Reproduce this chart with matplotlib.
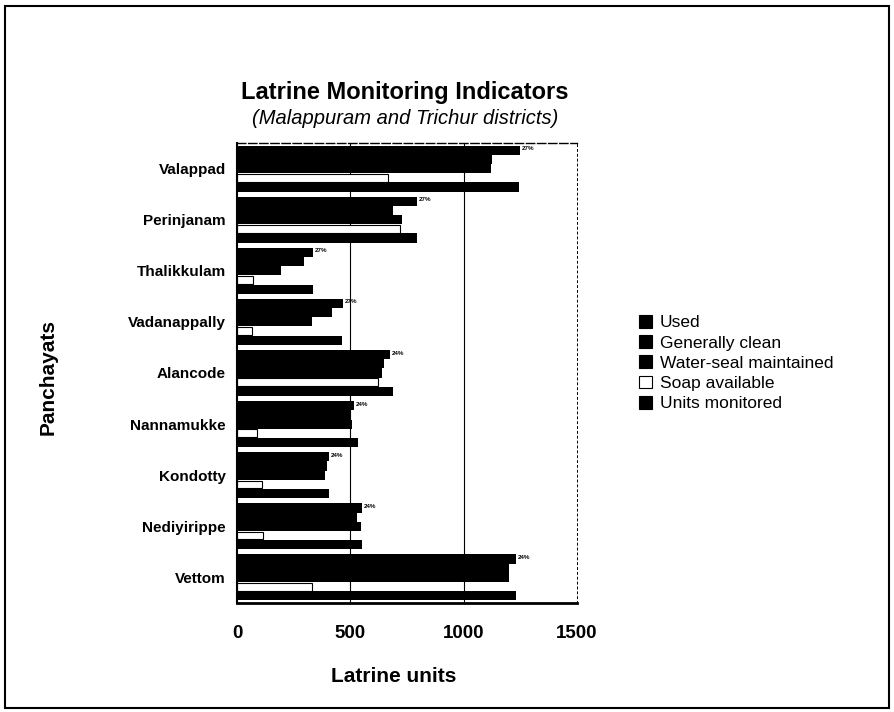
import matplotlib
matplotlib.use("Agg")
import matplotlib.pyplot as plt
from matplotlib.patches import Patch, Rectangle
import numpy as np

plt.rcParams['font.family'] = ['Liberation Sans', 'DejaVu Sans']

panchayats = ["Valappad", "Perinjanam", "Thalikkulam", "Vadanappally", "Alancode",
              "Nannamukke", "Kondotty", "Nediyirippe", "Vettom"]
series_names = ["Used", "Generally clean", "Water-seal maintained", "Soap available", "Units monitored"]
used = [1248, 792, 337, 469, 677, 518, 407, 552, 1230]
generally_clean = [1124, 690, 296, 420, 650, 500, 398, 530, 1200]
water_seal = [1120, 730, 195, 332, 640, 508, 390, 545, 1200]
soap_available = [664, 720, 70, 66, 620, 88, 110, 115, 332]
units_monitored = [1243, 792, 337, 464, 690, 535, 407, 552, 1230]
pct_labels = ["27%", "27%", "27%", "27%", "24%", "24%", "24%", "24%", "24%"]
x_ticks = [0, 500, 1000, 1500]

series = [used, generally_clean, water_seal, soap_available, units_monitored]
face = ["black", "black", "black", "white", "black"]

fig = plt.figure(figsize=(8.95, 7.12), dpi=100)
ax = fig.add_axes([237/895, 109/712, 340/895, 460/712])

n = len(panchayats)
ypos = np.arange(n)
bh = 0.18
for k, vals in enumerate(series):
    offs = (k - 2) * bh
    ax.barh(ypos + offs, vals, height=bh * 0.85 if k == 3 else bh,
            color=face[k], edgecolor="black", linewidth=0.8 if k == 3 else 0)

for i in range(n):
    ax.text(used[i] + 8, ypos[i] - 2 * bh - 0.03, pct_labels[i], fontsize=4.5,
            fontweight="bold", va="center", ha="left")

ax.set_xlim(0, 1500)
ax.set_ylim(n - 0.5, -0.5)
for g in [500, 1000]:
    ax.axvline(g, color="black", linewidth=0.8, zorder=0)
ax.set_xticks(x_ticks)
ax.set_xticklabels([str(t) for t in x_ticks], fontsize=13.5, fontweight="bold")
ax.set_yticks(ypos)
ax.set_yticklabels(panchayats, fontsize=11, fontweight="bold",
                   family=['Liberation Sans Narrow', 'Liberation Sans', 'DejaVu Sans'])
ax.tick_params(axis="y", length=0, pad=8)
ax.tick_params(axis="x", length=0, pad=16)
for s in ax.spines.values():
    s.set_linewidth(1.0)
ax.spines["bottom"].set_linewidth(2.0)
ax.spines["left"].set_linewidth(1.5)
ax.spines["top"].set_linestyle((0, (6, 2)))
ax.spines["right"].set_linestyle((0, (2, 3)))
ax.spines["right"].set_linewidth(0.7)

fig.text(394/895, 1 - 677/712, "Latrine units", fontsize=15, fontweight="bold",
         ha="center", va="center")
fig.text(48/895, 1 - 377/712, "Panchayats", fontsize=15, fontweight="bold",
         ha="center", va="center", rotation=90)

fig.text(405/895, 1 - 92/712, "Latrine Monitoring Indicators", fontsize=17,
         fontweight="bold", ha="center", va="center")
fig.text(405/895, 1 - 119/712, "(Malappuram and Trichur districts)", fontsize=14.5,
         style="italic", ha="center", va="center")

handles = [Patch(facecolor=face[k], edgecolor="black", linewidth=0.8) for k in range(5)]
fig.legend(handles, series_names, loc="upper left", bbox_to_anchor=(632/895, 1 - 308/712),
           frameon=False, fontsize=12.5, handlelength=0.75, handleheight=0.75,
           handletextpad=0.45, labelspacing=0.28, borderaxespad=0)

fig.add_artist(Rectangle((5/895, 4/712), 884/895, 702/712, transform=fig.transFigure,
                         fill=False, edgecolor="black", linewidth=1.5))

fig.savefig("out.png", dpi=100)
